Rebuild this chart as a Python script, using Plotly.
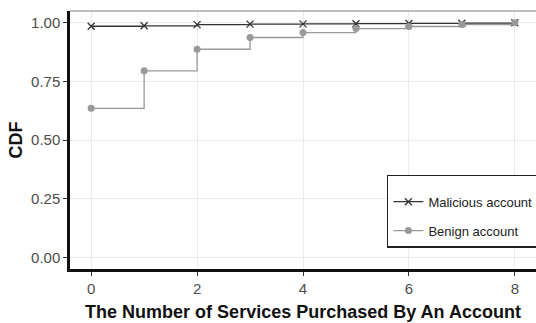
import plotly.graph_objects as go

services = [0, 1, 2, 3, 4, 5, 6, 7, 8]
malicious_cdf = [0.985, 0.987, 0.992, 0.994, 0.995, 0.996, 0.997, 0.998, 1.0]
benign_cdf = [0.635, 0.795, 0.887, 0.937, 0.958, 0.975, 0.984, 0.992, 1.0]
y_ticks = [0, 0.25, 0.5, 0.75, 1.0]
y_tick_labels = ["0.00", "0.25", "0.50", "0.75", "1.00"]
x_ticks = [0, 2, 4, 6, 8]

tick_font = dict(family="Liberation Sans Narrow, Arial Narrow, Liberation Sans, sans-serif", size=15, color="#4d4d4d")

fig = go.Figure()
fig.add_trace(go.Scatter(
    x=services, y=malicious_cdf, mode="lines+markers", name="Malicious account",
    legendgroup="m",
    line=dict(shape="hv", color="#333333", width=1.3),
    marker=dict(symbol="x-thin", size=7, line=dict(color="#333333", width=1.3)),
))
fig.add_trace(go.Scatter(
    x=services, y=benign_cdf, mode="lines+markers", name="Benign account",
    legendgroup="b",
    line=dict(shape="hv", color="#999999", width=1.3),
    marker=dict(symbol="circle", size=7, color="#999999"),
))

fig.update_layout(
    width=536, height=323,
    margin=dict(l=70, r=0, t=11, b=54, autoexpand=False),
    paper_bgcolor="white", plot_bgcolor="white",
    showlegend=True,
    legend=dict(
        x=0.68, y=0.365, xanchor="left", yanchor="top",
        bgcolor="white", bordercolor="#222222", borderwidth=1.5,
        font=dict(family="Liberation Sans Narrow, Arial Narrow, sans-serif", size=13, color="#222222"),
        title=dict(text=" ", font=dict(size=8)),
        tracegroupgap=9, itemwidth=30,
    ),
    xaxis=dict(
        range=[-0.4, 8.4], tickmode="array", tickvals=x_ticks,
        automargin=False,
        showgrid=True, gridcolor="#ebebeb", gridwidth=1,
        showline=True, linecolor="#111111", linewidth=2.5, mirror=False,
        ticks="outside", ticklen=4, tickcolor="#333333",
        tickfont=tick_font, zeroline=False,
        title=dict(text="<b>The Number of Services Purchased By An Account</b>",
                   font=dict(family="Liberation Sans, Arial, sans-serif", size=18, color="#111111"),
                   standoff=10),
    ),
    yaxis=dict(
        range=[-0.05, 1.05], tickmode="array", tickvals=y_ticks, ticktext=y_tick_labels,
        automargin=False,
        showgrid=True, gridcolor="#ebebeb", gridwidth=1,
        showline=True, linecolor="#111111", linewidth=2.5,
        ticks="outside", ticklen=4, tickcolor="#333333",
        tickfont=tick_font, zeroline=False,
        title=dict(text="<b>CDF</b>",
                   font=dict(family="Liberation Sans, Arial, sans-serif", size=18, color="#111111"),
                   standoff=4),
    ),
    shapes=[dict(type="line", xref="paper", yref="paper", x0=0, x1=1, y0=1, y1=1,
                 line=dict(color="#aaaaaa", width=1.5))],
)

fig.write_html("out.html")
